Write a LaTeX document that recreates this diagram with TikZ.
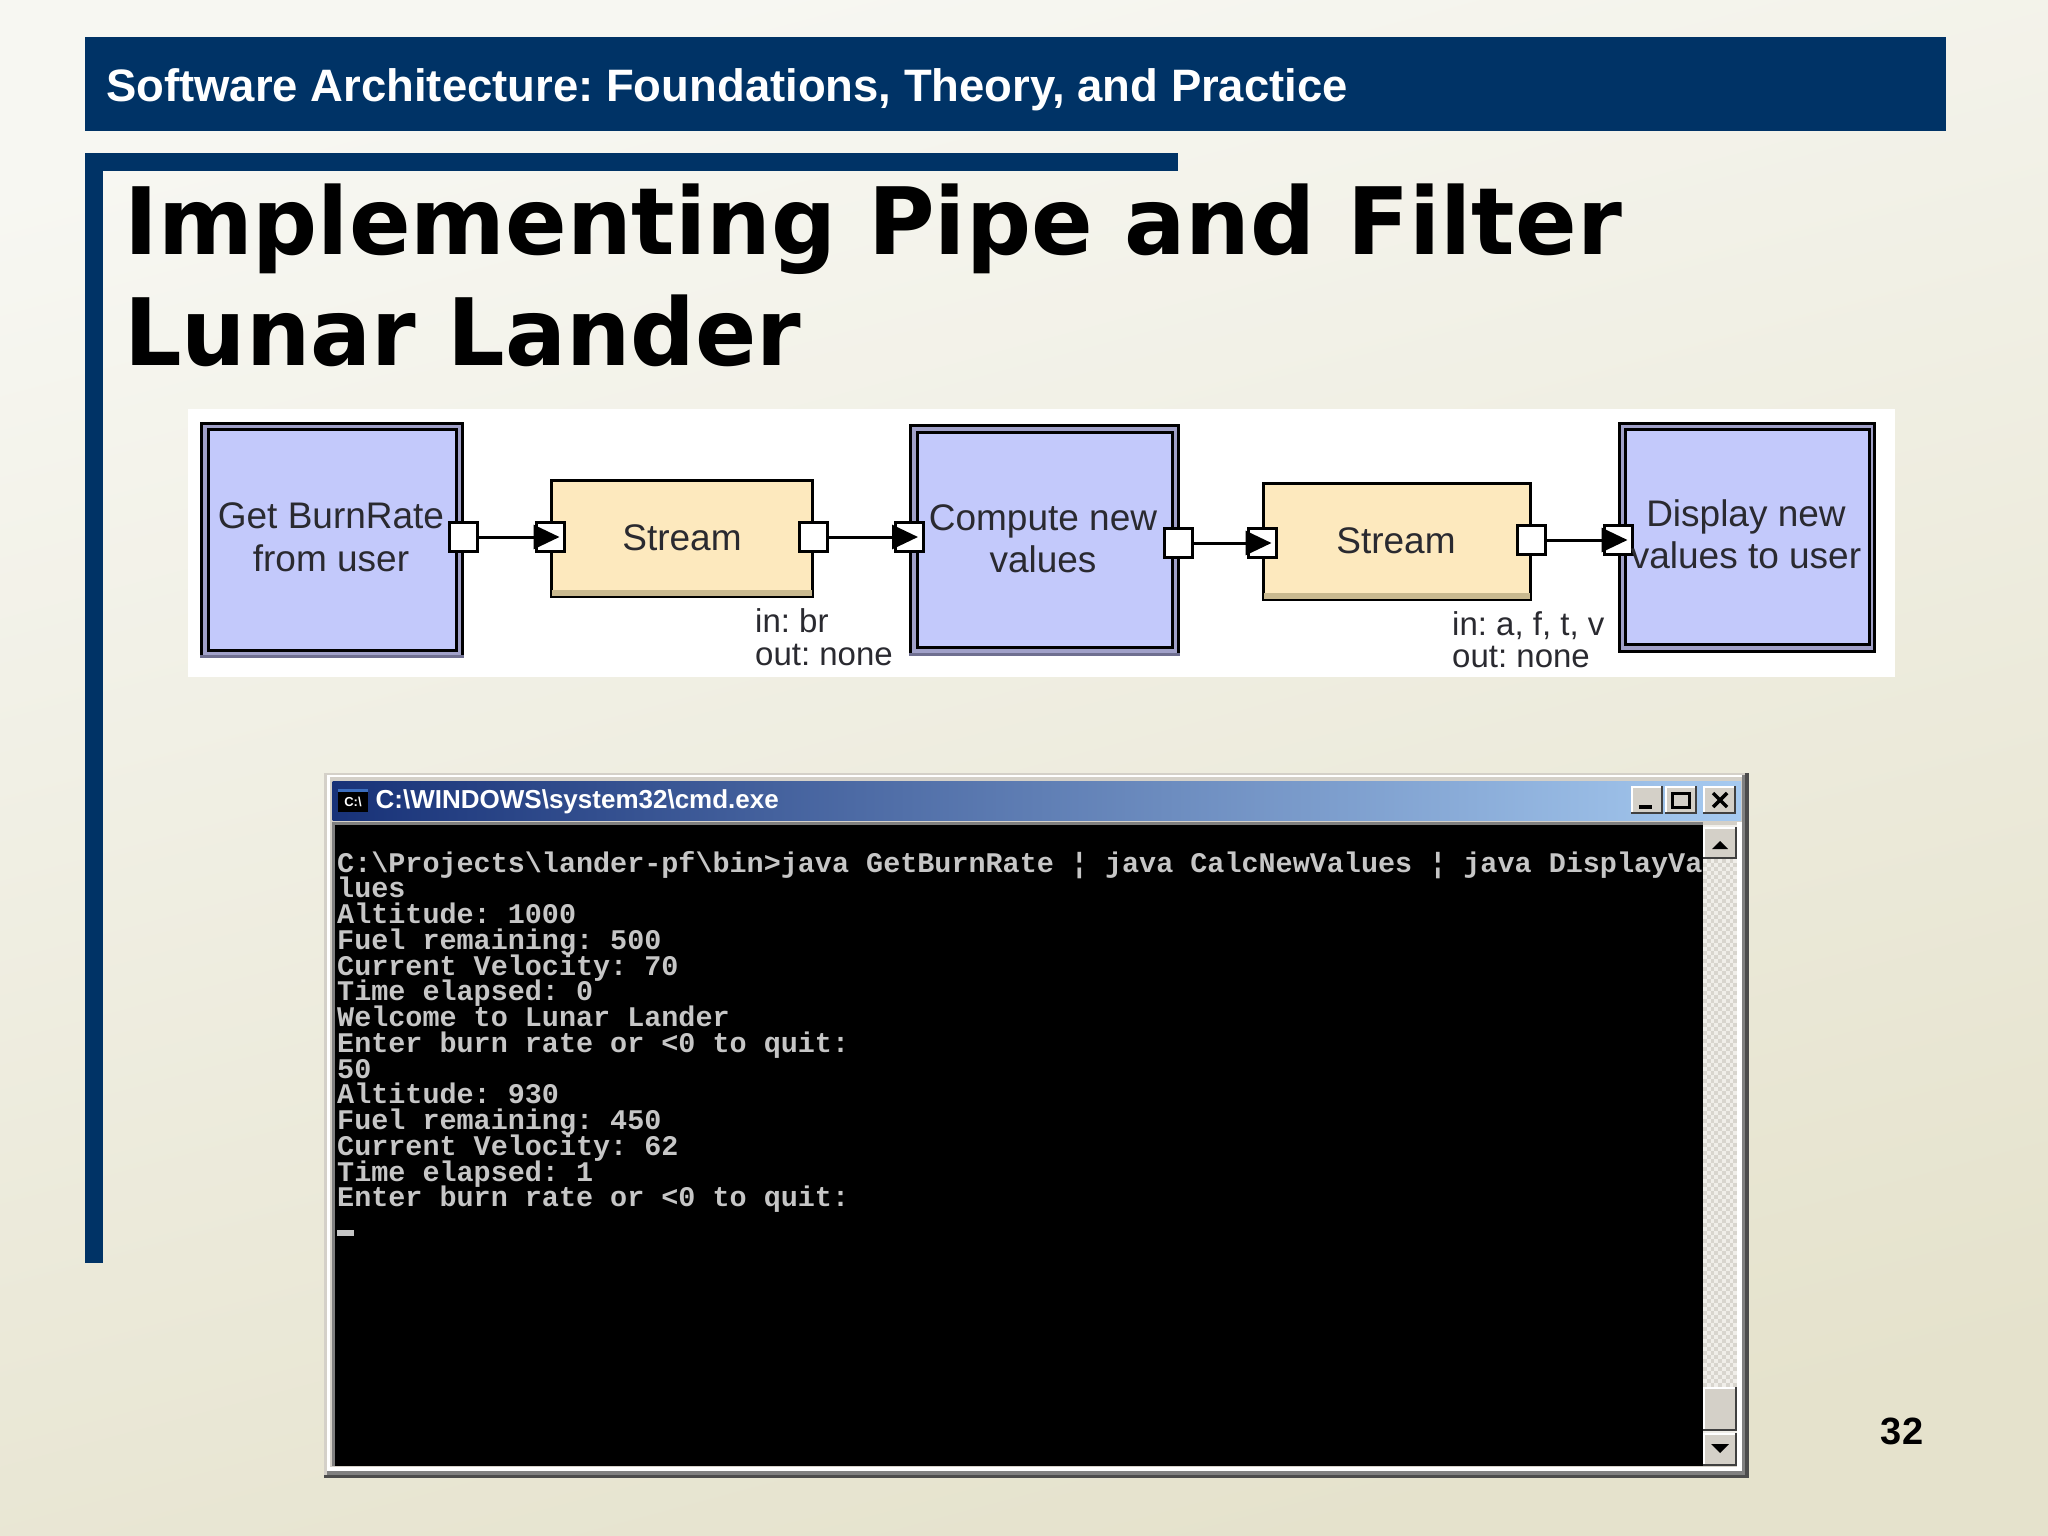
\documentclass[tikz,border=0pt]{standalone}
\usepackage{fontspec}
\usetikzlibrary{arrows.meta}
\setmainfont{Liberation Sans}
\newfontfamily\titlefont{DejaVu Sans}
\newfontfamily\termfont{Liberation Mono}
\frenchspacing
\definecolor{navy}{HTML}{003366}
\definecolor{bgtop}{HTML}{F7F7F2}
\definecolor{bgbottom}{HTML}{E5E2CC}
\definecolor{lilac}{HTML}{A0A0C8}
\definecolor{lilacdark}{HTML}{6F6F90}
\definecolor{boxblue}{HTML}{C3C9FB}
\definecolor{streamfill}{HTML}{FDE9BE}
\definecolor{streamdark}{HTML}{C9B98F}
\definecolor{winface}{HTML}{D4D0C8}
\definecolor{winshadow}{HTML}{808080}
\definecolor{wintext}{HTML}{C6C6C6}
\definecolor{diagtext}{HTML}{2A2A30}
\definecolor{captionleft}{HTML}{183278}
\definecolor{captionright}{HTML}{A6CAF0}
\definecolor{iconblue}{HTML}{3C6EBE}
\definecolor{scrolltrack}{HTML}{F0EEE9}
\definecolor{scrolldot}{HTML}{D8D5CE}
\tikzset{
  boxouter/.style={draw=black,line width=3pt,fill=lilac,inner sep=0pt,outer sep=0pt},
  boxinner/.style={draw=black,line width=3pt,fill=boxblue,inner sep=0pt,outer sep=0pt},
  streambox/.style={draw=black,line width=3.5pt,fill=streamfill,inner sep=0pt,outer sep=0pt},
  portbox/.style={draw=black,line width=3pt,fill=white,inner sep=0pt,outer sep=0pt,minimum width=28pt,minimum height=29pt},
  pipe/.style={draw=black,line width=3pt,-{Triangle[length=26pt,width=24pt]},shorten >=5pt},
  diaglabel/.style={font=\fontsize{37}{37}\selectfont,text=diagtext,inner sep=0pt,anchor=base},
  smalllabel/.style={font=\fontsize{33}{33}\selectfont,text=diagtext,inner sep=0pt,anchor=base west},
  termline/.style={font=\termfont\bfseries\fontsize{28.44}{28}\selectfont,text=wintext,inner sep=0pt,anchor=base west},
  bigtitle/.style={anchor=base west,inner sep=0pt,text=black,font=\titlefont\bfseries\fontsize{93}{93}\selectfont},
}
\newcommand{\winbtn}[4]{%
  \fill[black!75] (#1,#2) rectangle (#3,#4);
  \fill[white] (#1,#2) rectangle (#3-2,#4-2);
  \fill[winface] (#1+2,#2+2) rectangle (#3-2,#4-2);
}
\newcommand{\tline}[2]{\node[termline] (term#1) at (337,872+#1*25.75) {#2};}
\begin{document}
\begin{tikzpicture}[x=1pt,y=-1pt]
\useasboundingbox (0,0) rectangle (2048,1536);
% background
\shade[top color=bgtop,bottom color=bgbottom,shading angle=15] (0,0) rectangle (2048,1536);
% slide frame
\fill[navy] (85,37) rectangle (1946,131);
\fill[navy] (85,153) rectangle (103,1263);
\fill[navy] (85,153) rectangle (1178,171);
\node[anchor=base west,inner sep=0pt,text=white,font=\bfseries\fontsize{45.45}{46}\selectfont] (header) at (106,102) {Software Architecture: Foundations, Theory, and Practice};
\node[bigtitle] (title1) at (124,254) {\scalebox{.978}[1]{Implementing Pipe and Filter}};
\node[bigtitle] (title2) at (124,365) {\scalebox{.972}[1]{Lunar Lander}};
\node[anchor=base,inner sep=0pt,text=black,font=\bfseries\fontsize{38}{38}\selectfont] (pageno) at (1902,1444) {32};
% white panel of the diagram
\fill[white] (187.5,409) rectangle (1895,677);
% filter boxes
\node[boxouter,minimum width=261pt,minimum height=233pt] (b1o) at (332,540) {};
\fill[lilacdark] ([xshift=-1.5pt,yshift=-1.5pt]b1o.south west) rectangle ([xshift=1.5pt,yshift=1.5pt]b1o.south east);
\node[boxinner,minimum width=248pt,minimum height=221pt] (b1) at (332,540) {};
\node[boxouter,minimum width=268pt,minimum height=229pt] (b2o) at (1044.5,540) {};
\fill[lilacdark] ([xshift=-1.5pt,yshift=-1.5pt]b2o.south west) rectangle ([xshift=1.5pt,yshift=1.5pt]b2o.south east);
\node[boxinner,minimum width=255pt,minimum height=215pt] (b2) at (1044.5,539.5) {};
\node[boxouter,minimum width=255pt,minimum height=228pt] (b3o) at (1747,537.5) {};
\node[boxinner,minimum width=244pt,minimum height=215pt] (b3) at (1747.5,537) {};
% streams
\node[streambox,minimum width=261pt,minimum height=116pt] (s1) at (682,538.5) {};
\fill[streamdark] (552,590) rectangle (812,595.5);
\node[streambox,minimum width=267pt,minimum height=116pt] (s2) at (1397,541.5) {};
\fill[streamdark] (1264,593) rectangle (1530,598.5);
% ports
\node[portbox] (p1o) at (463.5,537) {};
\node[portbox] (s1i) at (550.5,537) {};
\node[portbox] (s1o) at (813.5,537) {};
\node[portbox] (b2i) at (909,537) {};
\node[portbox] (b2p) at (1178,543) {};
\node[portbox] (s2i) at (1262.5,543) {};
\node[portbox] (s2o) at (1531.5,540) {};
\node[portbox] (b3i) at (1618.5,540) {};
% connectors
\draw[pipe] (p1o.east) -- (s1i.east);
\draw[pipe] (s1o.east) -- (b2i.east);
\draw[pipe] (b2p.east) -- (s2i.east);
\draw[pipe] (s2o.east) -- (b3i.east);
% labels
\node[diaglabel] (t1a) at (331,528) {Get BurnRate};
\node[diaglabel] (t1b) at (331,571) {from user};
\node[diaglabel] (t2) at (682,550) {Stream};
\node[diaglabel] (t3a) at (1043,530) {Compute new};
\node[diaglabel] (t3b) at (1043,572) {values};
\node[diaglabel] (t4) at (1396,553) {Stream};
\node[diaglabel] (t5a) at (1746,526) {Display new};
\node[diaglabel] (t5b) at (1746,568) {values to user};
\node[smalllabel] (n1a) at (755,632) {in: br};
\node[smalllabel] (n1b) at (755,665) {out: none};
\node[smalllabel] (n2a) at (1452,635) {in: a, f, t, v};
\node[smalllabel] (n2b) at (1452,667) {out: none};
% console window
\fill[winface] (324,773) rectangle (1749,1478);
\fill[white] (327,775) rectangle (1745,777);
\fill[white] (327,775) rectangle (330,1471);
\fill[winshadow] (1742,775) rectangle (1745,1475);
\fill[winshadow] (327,1471) rectangle (1745,1475);
\fill[black!70] (1745,773) rectangle (1749,1478);
\fill[black!70] (324,1475) rectangle (1749,1478);
\fill[white] (330,1467) rectangle (1742,1471);
\fill[white] (1737,822) rectangle (1742,1471);
\shade[left color=captionleft,right color=captionright] (332.5,781) rectangle (1741,820);
% console icon and caption
\fill[black] (338,789) rectangle (368,812);
\fill[iconblue] (338,789) rectangle (368,792);
\node[text=white,inner sep=0pt,font=\bfseries\fontsize{13}{13}\selectfont] (icontext) at (353,802) {C:\textbackslash};
\node[anchor=base west,inner sep=0pt,text=white,font=\bfseries\fontsize{26}{26}\selectfont] (wintitle) at (375.5,808) {C:\textbackslash WINDOWS\textbackslash system32\textbackslash cmd.exe};
\winbtn{1631}{786}{1663}{814}
\fill[black] (1639,805) rectangle (1652,809);
\winbtn{1665}{786}{1697}{814}
\draw[black,line width=3pt] (1672,793) rectangle (1689,807);
\winbtn{1703}{786}{1736}{814}
\draw[black,line width=3.5pt] (1713,793) -- (1727,807) (1727,793) -- (1713,807);
% console body
\fill[winshadow] (332,822) rectangle (1703,825);
\fill[winshadow] (332,822) rectangle (335,1466);
\fill[black] (335,825) rectangle (1703,1466);
% scroll bar
\fill[scrolltrack] (1703,825) rectangle (1737,1466);
\foreach \r in {0,...,131}{
  \foreach \c in {0,...,8}{
    \pgfmathtruncatemacro{\odd}{mod(\r+\c,2)}
    \ifnum\odd=1
      \fill[scrolldot] (1703+\c*3.8,859+\r*4) rectangle ++(3.8,4);
    \fi
  }
}
\winbtn{1703}{827}{1737}{859}
\fill[black] (1712,849) -- (1728,849) -- (1720,841) -- cycle;
\winbtn{1703}{1387}{1737}{1431}
\winbtn{1703}{1433}{1737}{1466}
\fill[black] (1711,1444) -- (1729,1444) -- (1720,1453) -- cycle;
% console text
\tline{0}{C:\textbackslash Projects\textbackslash lander-pf\textbackslash bin>java GetBurnRate ¦ java CalcNewValues ¦ java DisplayVa}
\tline{1}{lues}
\tline{2}{Altitude: 1000}
\tline{3}{Fuel remaining: 500}
\tline{4}{Current Velocity: 70}
\tline{5}{Time elapsed: 0}
\tline{6}{Welcome to Lunar Lander}
\tline{7}{Enter burn rate or <0 to quit:}
\tline{8}{50}
\tline{9}{Altitude: 930}
\tline{10}{Fuel remaining: 450}
\tline{11}{Current Velocity: 62}
\tline{12}{Time elapsed: 1}
\tline{13}{Enter burn rate or <0 to quit:}
\fill[wintext] (337,1230) rectangle (354,1236);
\end{tikzpicture}
\end{document}
